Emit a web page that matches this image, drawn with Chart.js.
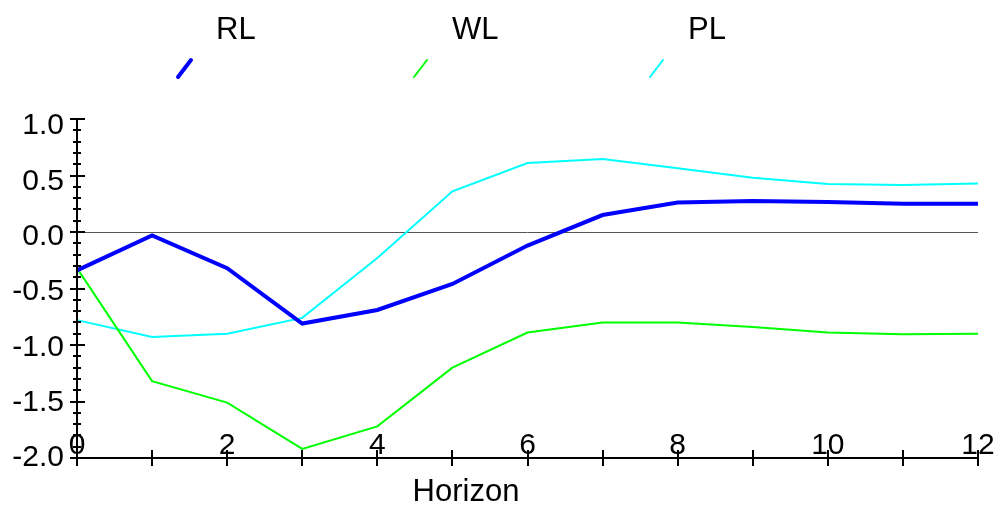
<!DOCTYPE html>
<html>
<head>
<meta charset="utf-8">
<script src="https://cdn.jsdelivr.net/npm/chart.js@4"></script>
<style>
html,body{margin:0;padding:0;background:#fff;}
#wrap{width:994px;height:505px;}
</style>
</head>
<body>
<div id="wrap"><canvas id="c" width="994" height="505"></canvas></div>
<script>
const horizons = [0,1,2,3,4,5,6,7,8,9,10,11,12];
const seriesNames = ["RL","WL","PL"];
const rlValues = [-0.34,-0.03,-0.32,-0.81,-0.69,-0.46,-0.12,0.15,0.26,0.275,0.265,0.25,0.25];
const wlValues = [-0.32,-1.32,-1.51,-1.92,-1.72,-1.20,-0.89,-0.80,-0.80,-0.84,-0.89,-0.905,-0.90];
const plValues = [-0.78,-0.93,-0.90,-0.76,-0.23,0.36,0.61,0.645,0.565,0.48,0.425,0.415,0.43];
const xTickLabels = ["0","2","4","6","8","10","12"];
const yTickLabels = ["1.0","0.5","0.0","-0.5","-1.0","-1.5","-2.0"];
const xTitle = "Horizon";

const FONT = '"Liberation Sans", Arial, sans-serif';

function pts(vals){ return horizons.map((h,i)=>({x:h,y:vals[i]})); }

const axesPlugin = {
  id:'axesPlugin',
  beforeDatasetsDraw(chart){
    const ctx = chart.ctx, xs = chart.scales.x, ys = chart.scales.y;
    const y0 = ys.getPixelForValue(0);
    ctx.save();
    ctx.strokeStyle = '#555';
    ctx.lineWidth = 1;
    ctx.beginPath();
    ctx.moveTo(xs.left, Math.round(y0)+0.5);
    ctx.lineTo(xs.right, Math.round(y0)+0.5);
    ctx.stroke();
    ctx.restore();
  },
  afterDatasetsDraw(chart){
    const ctx = chart.ctx, xs = chart.scales.x, ys = chart.scales.y;
    const ax = xs.getPixelForValue(xs.min);
    const ay = ys.getPixelForValue(ys.min);
    ctx.save();
    ctx.strokeStyle = '#000';
    ctx.lineWidth = 2;
    ctx.beginPath();
    ctx.moveTo(ax, ys.getPixelForValue(ys.max));
    ctx.lineTo(ax, ay);
    ctx.moveTo(ax, ay);
    ctx.lineTo(xs.getPixelForValue(xs.max), ay);
    ctx.stroke();
    for(let k=0;k<=30;k++){
      const v = ys.min + k*0.1;
      const py = Math.round(ys.getPixelForValue(v));
      const major = (k%5===0);
      ctx.beginPath();
      if(major){ ctx.moveTo(ax-7, py); ctx.lineTo(ax+8, py); }
      else { ctx.moveTo(ax-4, py); ctx.lineTo(ax+4, py); }
      ctx.stroke();
    }
    for(let h=xs.min;h<=xs.max;h++){
      const px = Math.round(xs.getPixelForValue(h));
      ctx.beginPath();
      ctx.moveTo(px, ay-8); ctx.lineTo(px, ay+8);
      ctx.stroke();
    }
    ctx.fillStyle = '#000';
    ctx.font = '30px ' + FONT;
    ctx.textAlign = 'right';
    ctx.textBaseline = 'middle';
    yTickLabels.forEach(lbl=>{
      const v = parseFloat(lbl);
      const off = 7*(v - ys.min)/(ys.max - ys.min);
      ctx.fillText(lbl, ax-13, ys.getPixelForValue(v)+off);
    });
    ctx.textAlign = 'center';
    ctx.textBaseline = 'alphabetic';
    xTickLabels.forEach(lbl=>{
      const v = parseFloat(lbl);
      ctx.fillText(lbl, xs.getPixelForValue(v), ay-4);
    });
    ctx.font = '31px ' + FONT;
    ctx.fillText(xTitle, 466, 501);
    chart.data.datasets.forEach((ds,i)=>{
      const bx = 178 + i*236;
      ctx.strokeStyle = ds.borderColor;
      ctx.lineWidth = ds.borderWidth;
      ctx.lineCap = 'round';
      ctx.beginPath();
      ctx.moveTo(bx, 77);
      ctx.lineTo(bx+13, 60);
      ctx.stroke();
      ctx.fillStyle = '#000';
      ctx.font = '31px ' + FONT;
      ctx.textAlign = 'left';
      ctx.fillText(ds.label, bx+38, 39);
    });
    ctx.restore();
  }
};

new Chart(document.getElementById('c'), {
  type:'line',
  data:{
    datasets:[
      {label:seriesNames[0], data:pts(rlValues), borderColor:'#0000FF', borderWidth:4, pointRadius:0, tension:0, clip:false},
      {label:seriesNames[1], data:pts(wlValues), borderColor:'#00FF00', borderWidth:2, pointRadius:0, tension:0, clip:false},
      {label:seriesNames[2], data:pts(plValues), borderColor:'#00FFFF', borderWidth:2, pointRadius:0, tension:0, clip:false}
    ]
  },
  options:{
    responsive:false,
    animation:false,
    devicePixelRatio:1,
    layout:{padding:{left:77,top:119,right:16,bottom:47}},
    plugins:{legend:{display:false}, tooltip:{enabled:false}},
    scales:{
      x:{type:'linear', min:0, max:12, display:false},
      y:{type:'linear', min:-2, max:1, display:false}
    }
  },
  plugins:[axesPlugin]
});
</script>
</body>
</html>
